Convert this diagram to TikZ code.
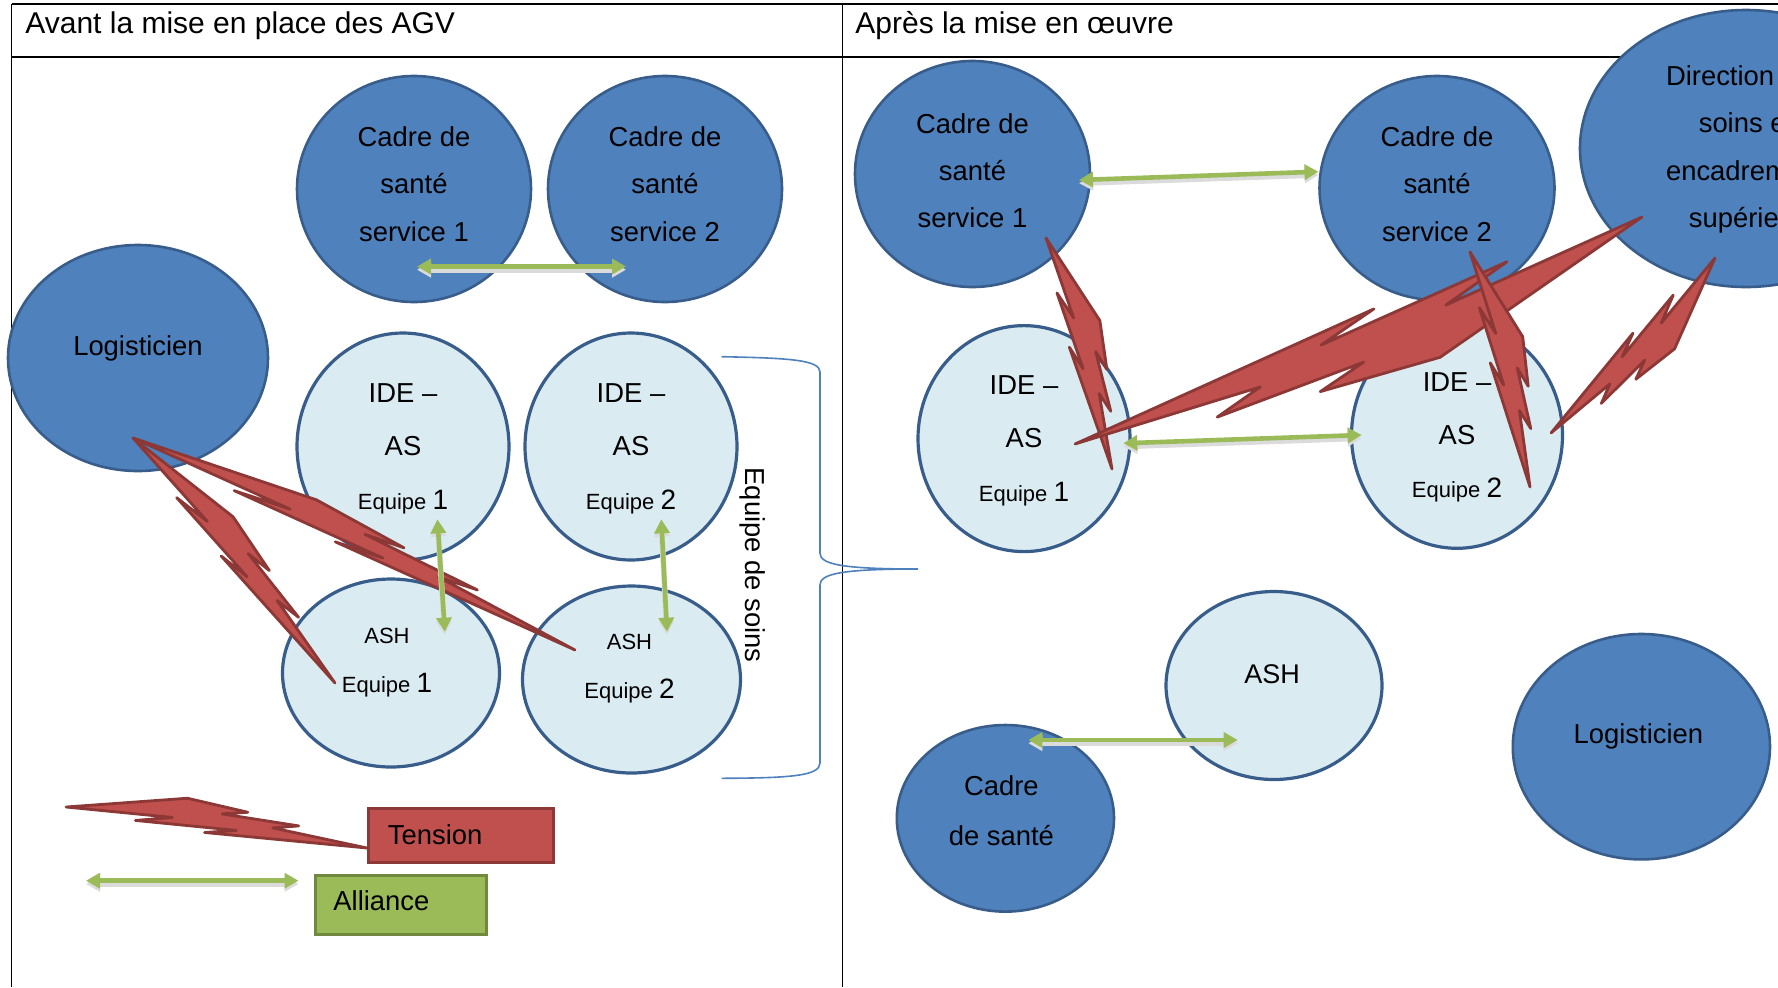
\documentclass[tikz,border=0pt]{standalone}
\usepackage{fontspec}
\setmainfont{Liberation Sans}
\usetikzlibrary{shapes.geometric,arrows.meta,calc}

\definecolor{nodeblue}{RGB}{79,129,189}
\definecolor{nodeline}{RGB}{56,93,138}
\definecolor{paleblue}{RGB}{218,235,242}
\definecolor{boltred}{RGB}{192,80,77}
\definecolor{boltline}{RGB}{140,56,54}
\definecolor{linkgreen}{RGB}{155,187,89}
\definecolor{greenline}{RGB}{113,137,63}

\tikzset{
  darkell/.style={ellipse, draw=nodeline, line width=1.3pt, fill=nodeblue, inner sep=0pt},
  paleell/.style={ellipse, draw=nodeline, line width=1.6pt, fill=paleblue, inner sep=0pt},
  txt/.style={align=center, font=\fontsize{13.7}{23.8}\selectfont, inner sep=0pt},
  headtxt/.style={anchor=base west, inner sep=0pt, font=\fontsize{15}{18}\selectfont},
  boltshape/.style={fill=boltred, draw=boltline, line width=1.4pt, line join=round},
  alliance/.style={draw=linkgreen, line width=2.3pt,
    arrows={Triangle[length=7pt,width=7.5pt]-Triangle[length=7pt,width=7.5pt]},
    preaction={draw=black!14, line width=2.8pt, transform canvas={yshift=-1.6pt}}},
  legbox/.style={rectangle, line width=1.4pt, inner sep=0pt, anchor=north west},
  teambrace/.style={draw=nodeblue, line width=0.8pt},
  tableline/.style={draw=black, line width=0.8pt}
}

% "Equipe" in a smaller size, team number in a larger one
\newcommand\eqp[1]{{\fontsize{11}{11}\selectfont Equipe }{\fontsize{14}{14}\selectfont #1}}

% Lightning bolt from base point #1 to tip #2, thickness #3 (pt)
\newcommand\tensionbolt[3]{%
  \path let \p1=(#1), \p2=(#2) in \pgfextra{%
    \pgfmathsetmacro\boltx{\x1}%
    \pgfmathsetmacro\bolty{\y1}%
    \pgfmathsetmacro\boltang{atan2(\y2-\y1,\x2-\x1)}%
    \pgfmathsetmacro\boltlen{veclen(\x2-\x1,\y2-\y1)}%
    \xdef\BoltX{\boltx}\xdef\BoltY{\bolty}\xdef\BoltAng{\boltang}\xdef\BoltLen{\boltlen}};
  \begin{scope}[shift={(\BoltX pt,\BoltY pt)}, rotate=\BoltAng,
                x={(\BoltLen pt,0pt)}, y={(0pt,#3pt)}]
    \draw[boltshape] (0.3922,0.5017) -- (0.5954,0.3867) -- (0.5116,0.2848)
      -- (0.7675,0.2535) -- (0.6837,0.1444) -- (1,0) -- (0.4635,-0.1304)
      -- (0.5658,-0.0036) -- (0.2325,-0.0786) -- (0.3519,0.0805) -- (0,0) -- cycle;
  \end{scope}}

\begin{document}
\begin{tikzpicture}[x=0.5pt, y=-0.5pt]
\useasboundingbox (0,0) rectangle (1778,987);
\clip (0,0) rectangle (1778,987);
\fill[white] (0,0) rectangle (1778,987);

% table frame
\draw[tableline] (11.5,4) -- (1778,4);
\draw[tableline, line width=1.3pt] (11.5,57) -- (1778,57);
\draw[tableline] (11.5,4) -- (11.5,987);
\draw[tableline] (842.5,4) -- (842.5,987);
\node[headtxt] (hleft) at (25,33.5) {Avant la mise en place des AGV};
\node[headtxt] (hright) at (855,33.5) {Après la mise en œuvre};

% ---------- before ----------
\node[darkell, minimum width=117pt, minimum height=113pt] (cs1L) at (414,189) {};
\node[txt] (cs1Lt) at ($(cs1L)+(0,-5)$) {Cadre de\\santé\\service 1};
\node[darkell, minimum width=117pt, minimum height=113pt] (cs2L) at (665,189) {};
\node[txt] (cs2Lt) at ($(cs2L)+(0,-5)$) {Cadre de\\santé\\service 2};
\node[darkell, minimum width=130pt, minimum height=113pt] (logL) at (138,358) {};
\node[txt] (logLt) at ($(logL)+(0,-10)$) {Logisticien};
\node[paleell, minimum width=106pt, minimum height=113.5pt] (ide1L) at (403,446.5) {};
\node[txt, font=\fontsize{13.7}{26.7}\selectfont] (ide1Lt) at ($(ide1L)+(0,2)$) {IDE –\\AS\\\eqp{1}};
\node[paleell, minimum width=106pt, minimum height=113.5pt] (ide2L) at (631,446.5) {};
\node[txt, font=\fontsize{13.7}{26.7}\selectfont] (ide2Lt) at ($(ide2L)+(0,2)$) {IDE –\\AS\\\eqp{2}};
\node[paleell, minimum width=108.5pt, minimum height=94pt] (ash1L) at (391,673) {};
\node[txt, font=\fontsize{11}{24.5}\selectfont] (ash1Lt) at ($(ash1L)+(-4,-10)$) {ASH\\\eqp{1}};
\node[paleell, minimum width=109pt, minimum height=93.5pt] (ash2L) at (631.5,679.5) {};
\node[txt, font=\fontsize{11}{24.5}\selectfont] (ash2Lt) at ($(ash2L)+(-2,-11)$) {ASH\\\eqp{2}};

% care team brace
\draw[teambrace] (721.7,356.7) .. controls (790,358) and (820,360) .. (820,372)
  -- (820,553) .. controls (820,564) and (840,569) .. (918,569)
  .. controls (840,569) and (820,574) .. (820,585)
  -- (820,763) .. controls (820,776) and (790,778) .. (721.7,778.3);
\node[txt, rotate=-90] (teamt) at (752.5,565) {Equipe de soins};

% tensions
\tensionbolt{$(logL)+(-5,80)$}{$(ash1L)+(-56,10)$}{27}
\tensionbolt{$(logL)+(-5,80)$}{$(ash2L)+(-56.5,-29.5)$}{23.5}

% alliances
\draw[alliance] ($(cs1L)+(3,77.5)$) -- ($(cs2L)+(-39,77.5)$);
\draw[alliance] ($(ide1L)+(34.4,72.8)$) -- ($(ash1L)+(53.9,-41.3)$);
\draw[alliance] ($(ide2L)+(30.3,72.8)$) -- ($(ash2L)+(35.5,-47.8)$);

% legend
\coordinate (legA) at (66,807);
\node[legbox, fill=boltred, draw=boltline, minimum width=92.5pt, minimum height=27pt] (tbox) at (367,807) {};
\tensionbolt{legA}{$(tbox.north west)+(0,41)$}{25}
\node[legbox, fill=boltred, draw=boltline, minimum width=92.5pt, minimum height=27pt] (tbox2) at (367,807) {};
\node[txt, anchor=base west] (tboxt) at (387.5,844) {Tension};
\node[legbox, fill=linkgreen, draw=greenline, minimum width=85.5pt, minimum height=29.7pt] (abox) at (314,874) {};
\node[txt, anchor=base west] (aboxt) at (333,910.7) {Alliance};
\coordinate (legL) at (86,880.7);
\draw[alliance] (legL) -- ($(abox.north west)+(-15.5,6.7)$);

% ---------- after ----------
\node[darkell, minimum width=117.5pt, minimum height=113pt] (cs1R) at (972.5,174) {};
\node[txt, font=\fontsize{13.7}{23.5}\selectfont] (cs1Rt) at ($(cs1R)+(0,-3)$) {Cadre de\\santé\\service 1};
\node[darkell, minimum width=117.5pt, minimum height=112pt] (cs2R) at (1437,188) {};
\node[txt] (cs2Rt) at ($(cs2R)+(0,-4)$) {Cadre de\\santé\\service 2};
\node[darkell, minimum width=166pt, minimum height=138.5pt] (dirR) at (1746,148.5) {};
\node[txt] (dirRt) at ($(dirR)+(0,1)$) {Direction des\\soins et\\encadrement\\supérieur};
\node[paleell, minimum width=106pt, minimum height=113pt] (ide1R) at (1024,438.6) {};
\node[txt, font=\fontsize{13.7}{26.7}\selectfont] (ide1Rt) at ($(ide1R)+(0,2)$) {IDE –\\AS\\\eqp{1}};
\node[paleell, minimum width=105.5pt, minimum height=113pt] (ide2R) at (1457,435.3) {};
\node[txt, font=\fontsize{13.7}{26.7}\selectfont] (ide2Rt) at ($(ide2R)+(0,2)$) {IDE –\\AS\\\eqp{2}};
\node[paleell, minimum width=108pt, minimum height=94pt] (ashR) at (1274,685.5) {};
\node[txt, font=\fontsize{13.5}{24}\selectfont] (ashRt) at ($(ashR)+(-2,-11)$) {ASH};
\node[darkell, minimum width=108.6pt, minimum height=93.3pt] (cadR) at (1005.4,818.3) {};
\node[txt, font=\fontsize{13.7}{25}\selectfont] (cadRt) at ($(cadR)+(-4,-8)$) {Cadre\\de santé};
\node[darkell, minimum width=128.6pt, minimum height=112.7pt] (logR) at (1641.4,746.7) {};
\node[txt] (logRt) at ($(logR)+(-3,-10)$) {Logisticien};

% tensions
\tensionbolt{$(cs1R)+(73.5,64)$}{$(ide1R)+(88,30.4)$}{29}
\tensionbolt{$(dirR)+(-104,68.5)$}{$(ide1R)+(51,5.4)$}{55}
\tensionbolt{$(cs2R)+(33,64)$}{$(ide2R)+(73,51.7)$}{30}
\tensionbolt{$(dirR)+(-31,109.5)$}{$(ide2R)+(94,-2.3)$}{32.5}

% alliances
\draw[alliance] ($(cs1R)+(106.5,6)$) -- ($(cs2R)+(-118.5,-16.3)$);
\draw[alliance] ($(ide1R)+(99.3,4.7)$) -- ($(ide2R)+(-95.3,-0.3)$);
\draw[alliance] ($(cadR)+(23,-78.3)$) -- ($(ashR)+(-36.3,54.5)$);
\end{tikzpicture}
\end{document}
